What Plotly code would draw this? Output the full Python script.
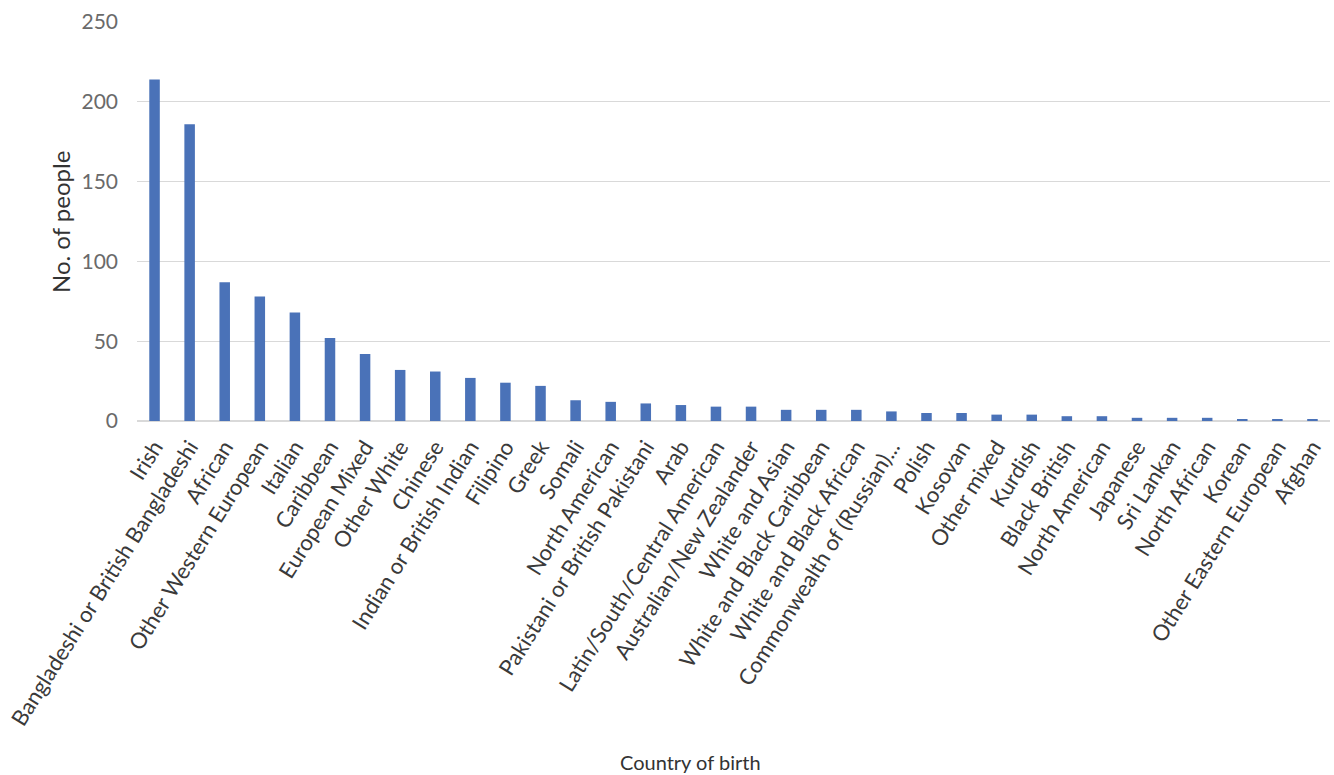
import plotly.graph_objects as go

categories = [
    "Irish", "Bangladeshi or British Bangladeshi", "African", "Other Western European",
    "Italian", "Caribbean", "European Mixed", "Other White", "Chinese",
    "Indian or British Indian", "Filipino", "Greek", "Somali", "North American",
    "Pakistani or British Pakistani", "Arab", "Latin/South/Central American",
    "Australian/New Zealander", "White and Asian", "White and Black Caribbean",
    "White and Black African", "Commonwealth of (Russian)...", "Polish", "Kosovan",
    "Other mixed", "Kurdish", "Black British", "North American", "Japanese",
    "Sri Lankan", "North African", "Korean", "Other Eastern European", "Afghan",
]
people = [
    214, 186, 87, 78, 68, 52, 42, 32, 31, 27, 24, 22, 13, 12, 11, 10, 9, 9,
    7, 7, 7, 6, 5, 5, 4, 4, 3, 3, 2, 2, 2, 1, 1, 1,
]
y_ticks = [0, 50, 100, 150, 200, 250]

positions = list(range(len(categories)))

fig = go.Figure(
    go.Bar(
        x=positions,
        y=people,
        marker=dict(color="#4a72b8", line=dict(width=0)),
        width=0.3,
    )
)

# plot-area geometry in pixels
L, R, T, B = 137, 4, 22, 354
W, H = 1334, 775
plot_w = W - L - R
plot_h = H - T - B

fig.update_layout(
    width=W,
    height=H,
    margin=dict(l=L, r=R, t=T, b=B),
    paper_bgcolor="white",
    plot_bgcolor="white",
    showlegend=False,
    font=dict(family="Lato", color="#404040"),
    xaxis=dict(
        tickmode="array",
        tickvals=positions,
        ticktext=categories,
        tickangle=-58,
        tickfont=dict(size=22, color="#3a3a3a"),
        range=[-0.5, len(categories) - 0.5],
        showgrid=False,
        zeroline=False,
        showline=False,
        ticks="",
        ticklabelstandoff=8,
        automargin=False,
    ),
    yaxis=dict(
        range=[0, 250],
        tickvals=y_ticks,
        tickfont=dict(size=21, color="#6a6a6a"),
        showgrid=True,
        gridcolor="#d9d9d9",
        gridwidth=1,
        zeroline=True,
        zerolinecolor="#d9d9d9",
        showline=False,
        ticks="",
        ticklabelstandoff=18,
        automargin=False,
    ),
    annotations=[
        dict(
            text="No. of people",
            x=(60 - L) / plot_w, y=(H - B - 222) / plot_h,
            xref="paper", yref="paper",
            xanchor="center", yanchor="middle",
            showarrow=False, textangle=-90,
            font=dict(size=24, color="#333333"),
        ),
        dict(
            text="Country of birth",
            x=(690 - L) / plot_w, y=(H - B - 762) / plot_h,
            xref="paper", yref="paper",
            xanchor="center", yanchor="middle",
            showarrow=False,
            font=dict(size=20, color="#333333"),
        ),
    ],
)

fig.write_html("out.html")
